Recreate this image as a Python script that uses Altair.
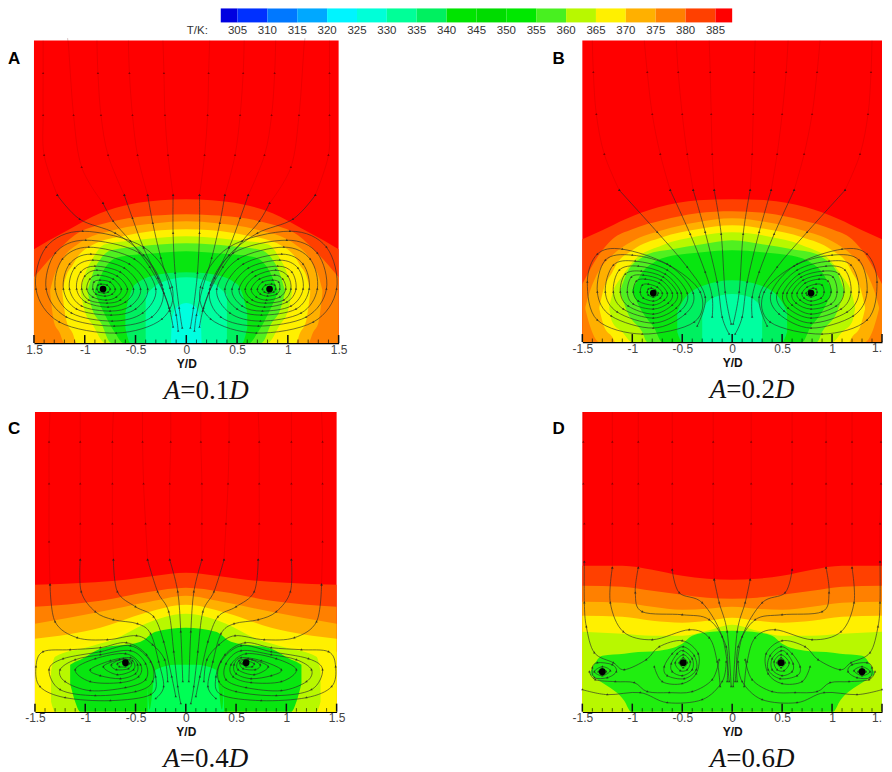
import altair as alt
import pandas as pd

# ---- colour bar ----
BAR_EDGES = [302.2, 305, 310, 315, 320, 325, 330, 335, 340, 345, 350, 355, 360, 365, 370, 375, 380, 385, 387.8]
BAR_COLORS = ["#0000e0", "#0030ff", "#0078ff", "#00a8ff", "#00f4ff", "#00ffd8", "#00ff98", "#00f060", "#00e400",
              "#00dc00", "#00e800", "#48f020", "#b8f800", "#fff000", "#ffb000", "#ff8000", "#ff4000", "#ff0000"]
BAR_LABELS = [305, 310, 315, 320, 325, 330, 335, 340, 345, 350, 355, 360, 365, 370, 375, 380, 385]

C380, C375, C370, C365, C360 = "#ff4000", "#ff8000", "#ffb000", "#fff000", "#b8f800"
C355, C350, C340, C335, C325 = "#50f020", "#08e610", "#00f060", "#00ffa0", "#00ffe0"
C345, CD = "#00ff55", "#20ee10"

# ---- contour bands, left half: (Y/D, upper height, lower height) ----
A_BANDS = [
    (C380, [(-1.5, 94), (-1.35, 103), (-1.15, 114), (-.85, 130), (-.55, 139), (-.25, 143), (0, 144)]),
    (C375, [(-1.5, 66), (-1.4, 78), (-1.3, 89), (-1.1, 108), (-.8, 120), (-.5, 126), (-.25, 128), (0, 129)]),
    (C370, [(-1.34, 53, 50), (-1.3, 68, 20), (-1.25, 78, 11), (-1.2, 87, 0), (-1.07, 99, 0), (-.68, 114, 0), (-.3, 120, 0), (0, 122, 0)]),
    (C365, [(-1.22, 53, 50), (-1.18, 68, 22), (-1.12, 78, 10), (-1.08, 85, 0), (-.93, 98, 0), (-.58, 108, 0), (-.25, 113, 0), (0, 114, 0)]),
    (C360, [(-1.04, 53, 50), (-1.0, 68, 32), (-.92, 85, 18), (-.8, 99, 0), (-.5, 103, 0), (-.2, 106, 0), (0, 107, 0)]),
    (C355, [(-.97, 53, 50), (-.92, 70, 32), (-.84, 85, 20), (-.74, 93, 0), (-.45, 97, 0), (0, 100, 0)]),
    (C350, [(-.9, 53, 50), (-.82, 72, 32), (-.7, 85, 10), (-.62, 87, 0), (-.3, 90, 0), (0, 92, 0)]),
    (C340, [(-.6, 30, 15), (-.55, 50, 0), (-.5, 59, 0), (-.26, 69, 0), (0, 71, 0)]),
    (C335, [(-.4, 48, 0), (-.26, 60, 0), (0, 66, 0)]),
    (C325, [(-.15, 2, 0), (-.14, 25, 0), (-.08, 37, 0), (0, 40, 0)]),
]
B_BANDS = [
    (C380, [(-1.5, 103), (-1.3, 112), (-1.07, 123), (-.74, 135), (-.34, 142), (0, 143)]),
    (C375, [(-1.5, 58), (-1.35, 85), (-1.2, 103), (-1.0, 113), (-.7, 122), (-.35, 129), (0, 131)]),
    (C370, [(-1.47, 35, 33), (-1.42, 52, 15), (-1.33, 72, 0), (-1.2, 87, 0), (-1, 101, 0), (-.7, 112, 0), (-.35, 120, 0), (0, 124, 0)]),
    (C365, [(-1.33, 35, 33), (-1.28, 55, 15), (-1.2, 70, 5), (-1.17, 76, 0), (-1, 92, 0), (-.7, 105, 0), (-.35, 113, 0), (0, 117, 0)]),
    (C360, [(-1.23, 35, 33), (-1.2, 48, 20), (-1.1, 66, 10), (-1, 80, 0), (-.7, 97, 0), (-.35, 106, 0), (0, 110, 0)]),
    (C355, [(-1.12, 52, 50), (-1.05, 70, 30), (-.9, 85, 10), (-.85, 88, 0), (-.6, 93, 0), (-.3, 98, 0), (0, 102, 0)]),
    (C350, [(-1.0, 52, 50), (-.9, 70, 30), (-.78, 80, 14), (-.7, 84, 0), (-.3, 90, 0), (0, 92, 0)]),
    (C340, [(-.55, 30, 10), (-.5, 40, 0), (-.3, 56, 0), (0, 62, 0)]),
    (C335, [(-.3, 2, 0), (-.3, 25, 0), (-.25, 40, 0), (-.1, 47, 0), (0, 48, 0)]),
]
C_BANDS = [
    (C380, [(-1.5, 127), (-1, 129), (-.6, 132), (-.3, 136), (0, 139)]),
    (C375, [(-1.5, 105), (-.85, 111), (-.36, 120), (0, 124)]),
    (C370, [(-1.5, 88), (-.85, 100), (-.36, 110), (0, 116)]),
    (C365, [(-1.5, 73), (-.85, 84), (-.4, 99), (0, 107)]),
    ("#fff400", [(-1.5, 60), (-.85, 72), (-.4, 90), (0, 98)]),
    (C360, [(-1.34, 40, 10), (-1.3, 55, 0), (-1, 64, 0), (-.7, 73, 0), (-.4, 88, 0), (-.2, 95, 0), (0, 98, 0)]),
    (C350, [(-1.15, 47, 28), (-1.1, 50, 10), (-1.05, 52, 0), (-.85, 63, 0), (-.45, 70, 0), (-.3, 80, 0), (0, 84, 0)]),
    (C345, [(-.36, 2, 0), (-.38, 25, 0), (-.3, 42, 0), (-.1, 47, 0), (0, 47, 0)]),
]
D_BANDS = [
    (C380, [(-1.5, 146), (-1.1, 146), (-.8, 142), (-.5, 136), (-.25, 133), (0, 132)]),
    (C375, [(-1.5, 126), (-1.1, 125), (-.8, 121), (-.5, 117), (-.25, 114), (0, 113)]),
    (C370, [(-1.5, 110), (-1.1, 109), (-.8, 105), (-.5, 102), (-.25, 103), (0, 105)]),
    (C365, [(-1.5, 96), (-1.1, 95), (-.8, 91), (-.5, 89), (-.25, 91), (0, 94)]),
    (C360, [(-1.5, 80), (-1.1, 78), (-.8, 76), (-.5, 76), (-.25, 81), (0, 87)]),
    (CD, [(-1.42, 40, 37), (-1.3, 56, 29), (-1.08, 58, 11), (-1.01, 59, 0), (-.73, 61, 0), (-.5, 68, 0), (-.4, 76, 0), (-.2, 80, 0), (0, 81, 0)]),
]

# ---- closed streamlines, left half ----
A_LOOPS = [
    [(-1.48, 54), (-1.38, 96), (-1.02, 112), (-.42, 96), (-.14, 56), (-.24, 24), (-.69, 10), (-1.25, 21)],
    [(-1.38, 54), (-1.29, 90), (-.99, 103), (-.46, 90), (-.23, 54), (-.34, 26), (-.71, 17), (-1.18, 26)],
    [(-1.29, 54), (-1.22, 84), (-.96, 96), (-.51, 84), (-.3, 54), (-.43, 30), (-.73, 22), (-1.13, 30)],
    [(-1.21, 54), (-1.15, 79), (-.94, 89), (-.56, 79), (-.38, 54), (-.5, 34), (-.74, 28), (-1.08, 34)],
    [(-1.15, 54), (-1.1, 75), (-.92, 83), (-.61, 75), (-.45, 54), (-.55, 37), (-.75, 32), (-1.03, 37)],
    [(-1.08, 54), (-1.04, 71), (-.9, 77), (-.65, 71), (-.52, 54), (-.6, 41), (-.77, 36), (-.99, 41)],
    [(-1.03, 54), (-1.0, 67), (-.88, 73), (-.68, 67), (-.58, 54), (-.65, 43), (-.78, 40), (-.96, 43)],
    [(-.98, 54), (-.95, 64), (-.87, 68), (-.72, 64), (-.64, 54), (-.69, 46), (-.79, 43), (-.92, 46)],
    [(-.92, 54), (-.91, 61), (-.85, 63), (-.75, 61), (-.7, 54), (-.73, 49), (-.8, 47), (-.89, 49)],
    [(-.88, 54), (-.87, 58), (-.84, 59), (-.78, 58), (-.75, 54), (-.77, 51), (-.81, 50), (-.86, 51)],
]
B_LOOPS = [
    [(-1.45, 60), (-1.35, 88), (-1.1, 93), (-.65, 78), (-.32, 50), (-.38, 20), (-.9, 8), (-1.35, 22)],
    [(-1.35, 50), (-1.27, 82), (-1.0, 87), (-.62, 76), (-.39, 49), (-.47, 28), (-.79, 14), (-1.21, 26)],
    [(-1.27, 50), (-1.19, 77), (-.97, 81), (-.65, 72), (-.45, 49), (-.52, 31), (-.79, 19), (-1.15, 30)],
    [(-1.19, 50), (-1.13, 72), (-.94, 76), (-.67, 68), (-.51, 49), (-.56, 34), (-.79, 24), (-1.09, 33)],
    [(-1.12, 50), (-1.07, 68), (-.91, 71), (-.69, 65), (-.55, 49), (-.6, 37), (-.79, 28), (-1.04, 36)],
    [(-1.05, 50), (-1.01, 65), (-.89, 67), (-.71, 62), (-.6, 49), (-.64, 39), (-.79, 33), (-.99, 38)],
    [(-.99, 50), (-.96, 61), (-.87, 63), (-.73, 59), (-.65, 49), (-.68, 42), (-.79, 37), (-.94, 41)],
    [(-.92, 50), (-.9, 57), (-.84, 58), (-.75, 55), (-.7, 49), (-.72, 44), (-.79, 41), (-.89, 44)],
    [(-.85, 50), (-.84, 53), (-.81, 54), (-.77, 52), (-.74, 49), (-.75, 47), (-.79, 45), (-.84, 47)],
]
C_LOOPS = [
    [(-1.49, 45), (-1.42, 60), (-1.15, 62), (-.85, 64), (-.59, 69), (-.39, 57), (-.3, 35), (-.35, 17), (-.75, 11), (-1.2, 14), (-1.45, 25)],
    [(-1.36, 42), (-1.22, 53), (-.85, 60), (-.55, 66), (-.35, 50), (-.33, 30), (-.5, 20), (-.9, 16), (-1.25, 22)],
    [(-1.25, 42), (-1.1, 52), (-.85, 57), (-.55, 61), (-.4, 48), (-.4, 32), (-.6, 24), (-.95, 21), (-1.2, 30)],
    [(-1.1, 42), (-.9, 53), (-.6, 58), (-.45, 47), (-.47, 35), (-.65, 29), (-.95, 30)],
    [(-.95, 42), (-.75, 51), (-.55, 54), (-.48, 47), (-.5, 38), (-.65, 33), (-.85, 36)],
    [(-.82, 45), (-.66, 52), (-.53, 51), (-.52, 42), (-.68, 37)],
    [(-.74, 47), (-.62, 53), (-.54, 49), (-.57, 43), (-.69, 42)],
    [(-.68, 48), (-.6, 51), (-.56, 48), (-.6, 45), (-.66, 45)],
]
D_LOOPS = [
    [(-.68, 45), (-.6, 58), (-.49, 65), (-.38, 56), (-.36, 42), (-.48, 33), (-.65, 36)],
    [(-.61, 48), (-.55, 58), (-.49, 61), (-.4, 53), (-.4, 42), (-.5, 36), (-.6, 40)],
    [(-.57, 49), (-.49, 57), (-.42, 50), (-.45, 42), (-.52, 41)],
    [(-.53, 49), (-.49, 54), (-.45, 49), (-.49, 44)],
    [(-1.4, 44), (-1.35, 49), (-1.2, 47), (-1.16, 40), (-1.25, 34), (-1.38, 34)],
    [(-1.38, 40), (-1.3, 45), (-1.22, 41), (-1.3, 36)],
    [(-1.34, 40), (-1.3, 43), (-1.26, 40), (-1.3, 37)],
]

# ---- open streamlines inside the coloured region, left half ----
A_OPEN = [
    [(-.13, 148), (-.13, 110), (-.11, 70), (-.07, 35), (-.04, 15)],
    [(-.38, 148), (-.33, 120), (-.25, 85), (-.16, 55), (-.1, 28), (-.08, 12)],
    [(-.61, 148), (-.53, 125), (-.42, 95), (-.28, 65), (-.17, 35), (-.13, 16)],
    [(-.82, 140), (-.72, 122), (-.55, 102), (-.36, 76), (-.22, 50), (-.16, 32)],
    [(-1.27, 148), (-1.05, 124), (-.7, 110), (-.42, 88), (-.24, 58)],
]
B_OPEN = [
    [(-.18, 152), (-.11, 108), (-.07, 50), (-.01, 18)],
    [(-.39, 152), (-.27, 110), (-.15, 60), (-.1, 25), (-.03, 8)],
    [(-.62, 152), (-.42, 108), (-.27, 70), (-.2, 45), (-.2, 25)],
    [(-1.13, 152), (-.75, 110), (-.45, 75), (-.27, 45), (-.35, 16)],
]
C_OPEN = [
    [(-1.35, 127), (-1.3, 90), (-1.08, 74), (-.78, 72), (-.49, 76), (-.33, 67), (-.21, 52), (-.18, 30)],
    [(-1.05, 152), (-1.04, 120), (-.9, 100), (-.72, 92), (-.48, 88), (-.35, 78), (-.27, 50), (-.22, 25), (-.3, 13)],
    [(-.72, 152), (-.68, 120), (-.5, 105), (-.32, 95), (-.22, 70), (-.14, 35), (-.1, 15)],
    [(-.38, 152), (-.28, 120), (-.17, 100), (-.12, 60), (-.08, 25), (-.05, 8)],
    [(-.16, 152), (-.08, 120), (-.05, 80), (-.03, 30)],
]
D_OPEN = [
    [(-1.48, 150), (-1.48, 109), (-1.46, 85), (-1.38, 59), (-1.19, 49), (-1.08, 42), (-.86, 52), (-.73, 65), (-.5, 71), (-.34, 58), (-.36, 38), (-.5, 28), (-.7, 30), (-.78, 45)],
    [(-1.2, 144), (-1.22, 109), (-1.09, 80), (-.8, 72), (-.43, 82), (-.23, 74), (-.15, 50), (-.12, 25)],
    [(-.94, 144), (-.97, 119), (-.9, 100), (-.5, 97), (-.23, 92), (-.06, 65), (-.05, 30)],
    [(-.6, 142), (-.53, 119), (-.3, 109), (-.1, 75), (-.03, 30)],
    [(-.18, 132), (-.13, 109), (-.05, 80), (-.01, 25)],
    [(-1.43, 40), (-1.37, 32), (-1.17, 30), (-.98, 29), (-.85, 20), (-.63, 19), (-.4, 20), (-.2, 32), (-.13, 52)],
    [(-1.5, 22), (-1.25, 17), (-.92, 19), (-.65, 9), (-.3, 12), (-.1, 30), (-.06, 50)],
]

# ---- faint streamlines in the red region, left half ----
A_FAINT = [
    [(-1.41, 303), (-1.41, 270), (-1.41, 228), (-1.40, 188), (-1.27, 148)],
    [(-1.17, 303), (-1.16, 298), (-1.11, 228), (-1.03, 176), (-.82, 140)],
    [(-.88, 303), (-.87, 270), (-.84, 228), (-.77, 188), (-.61, 148)],
    [(-.57, 303), (-.56, 270), (-.53, 228), (-.48, 188), (-.38, 148)],
    [(-.23, 303), (-.22, 270), (-.21, 228), (-.18, 188), (-.13, 148)],
]
B_FAINT = [
    [(-.23, 302), (-.22, 270), (-.21, 228), (-.2, 188), (-.18, 152)],
    [(-.56, 302), (-.54, 270), (-.5, 228), (-.45, 188), (-.39, 152)],
    [(-.88, 302), (-.85, 270), (-.8, 228), (-.72, 188), (-.62, 152)],
    [(-1.4, 302), (-1.39, 270), (-1.36, 228), (-1.28, 188), (-1.13, 152)],
]
C_FAINT = [
    [(-1.35, 300), (-1.36, 270), (-1.36, 228), (-1.36, 170), (-1.35, 127)],
    [(-1.05, 300), (-1.05, 270), (-1.05, 228), (-1.05, 188), (-1.05, 152)],
    [(-.72, 300), (-.73, 270), (-.73, 228), (-.73, 188), (-.72, 152)],
    [(-.43, 300), (-.43, 270), (-.42, 228), (-.4, 188), (-.38, 152)],
    [(-.15, 300), (-.15, 270), (-.16, 228), (-.16, 188), (-.16, 152)],
]
D_FAINT = [
    [(-1.49, 300), (-1.49, 270), (-1.49, 228), (-1.48, 188), (-1.48, 150)],
    [(-1.2, 300), (-1.2, 270), (-1.2, 228), (-1.2, 188), (-1.2, 144)],
    [(-.94, 300), (-.94, 270), (-.94, 228), (-.94, 188), (-.94, 144)],
    [(-.6, 300), (-.6, 270), (-.6, 228), (-.6, 188), (-.6, 142)],
    [(-.19, 300), (-.19, 270), (-.19, 228), (-.19, 188), (-.18, 132)],
]

# vortex cores, left half
A_CORES = [(-.82, 54)]
B_CORES = [(-.79, 49)]
C_CORES = [(-.6, 49)]
D_CORES = [(-.49, 49), (-1.3, 40)]

MAJOR_TICKS = [-1.5, -1, -.5, 0, .5, 1, 1.5]
MINOR_TICKS = [-1.4, -1.3, -1.2, -1.1, -.9, -.8, -.7, -.6, -.4, -.3, -.2, -.1,
               .1, .2, .3, .4, .6, .7, .8, .9, 1.1, 1.2, 1.3, 1.4]
SERIF = "Liberation Serif"
SANS = "Liberation Sans"


def lines_frame(curves):
    rows = []
    for i, c in enumerate(curves):
        for k, (x, h) in enumerate(c):
            rows.append({"id": f"L{i}", "k": k, "x": x, "h": h})
        for k, (x, h) in enumerate(c):
            rows.append({"id": f"R{i}", "k": k, "x": -x, "h": h})
    return pd.DataFrame(rows)


def band_frame(pts):
    left = [(p[0], p[1], p[2] if len(p) > 2 else 0) for p in pts]
    right = [(-a, b, c) for a, b, c in reversed(left) if a != 0]
    return pd.DataFrame(left + right, columns=["x", "top", "bot"])


def panel(letter, caption, bands, loops, opened, faint, cores, w, h, rng, label_mode="full", y_off=0):
    total = h + y_off
    yscale = alt.Scale(domain=[0, h], range=[total, y_off], nice=False, zero=False)
    xscale = alt.Scale(domain=[-1.5, 1.5], range=rng, nice=False, zero=False)
    lab = {
        "nominus": "(datum.value<0 && datum.value>-1.5 ? '-' : '')+abs(datum.value)",
        "full": "(datum.value<0 ? '-' : '')+abs(datum.value)",
        "cut": "datum.value==1.5 ? '' : (datum.value<0 ? '-' : '')+abs(datum.value)",
    }[label_mode]
    xs = alt.X("x:Q", scale=xscale,
               axis=alt.Axis(values=MAJOR_TICKS, ticks=False, grid=False, domainColor="#000", domainWidth=1.6,
                             labelFont=SANS, labelFontSize=12, labelColor="#444", labelPadding=1,
                             labelOverlap=False, labelBound=False, labelFlush=False, labelExpr=lab,
                             title="Y/D", titleFont=SANS, titleFontSize=12, titleFontWeight="bold",
                             titleColor="#111", titlePadding=3))
    ys = alt.Y("top:Q", scale=yscale, axis=None)
    yh = alt.Y("h:Q", scale=yscale, axis=None)
    base = pd.DataFrame({"x": [-1.5, 1.5], "top": [h, h], "bot": [0, 0]})
    layers = [alt.Chart(base).mark_area(color="#ff0000", interpolate="linear").encode(
        x=xs, y=ys, y2=alt.Y2("bot:Q"))]
    for col, pts in bands:
        layers.append(alt.Chart(band_frame(pts)).mark_area(color=col, interpolate="monotone").encode(
            x=xs, y=ys, y2=alt.Y2("bot:Q")))
    ff = lines_frame(faint)
    layers.append(alt.Chart(ff).mark_line(color="#5a0000", strokeWidth=0.6, opacity=0.22, interpolate="cardinal").encode(
        x=xs, y=yh, detail="id:N", order="k:Q"))
    layers.append(alt.Chart(ff[ff["h"] < h - 8]).mark_point(shape="triangle", filled=True, color="#400000", size=6, opacity=0.6).encode(
        x=xs, y=yh))
    lf = lines_frame(loops)
    of = lines_frame(opened)
    for df, interp in ((lf, "cardinal-closed"), (of, "cardinal")):
        layers.append(alt.Chart(df).mark_line(color="#2a2a2a", strokeWidth=0.8, opacity=0.8, interpolate=interp).encode(
            x=xs, y=yh, detail="id:N", order="k:Q"))
        layers.append(alt.Chart(df).mark_point(shape="triangle", filled=True, color="#222", size=6, opacity=0.75).encode(
            x=xs, y=yh))
    core = pd.DataFrame([{"x": x, "h": v} for x, v in cores] + [{"x": -x, "h": v} for x, v in cores])
    layers.append(alt.Chart(core).mark_point(shape="circle", filled=True, color="#000", size=45, opacity=1).encode(
        x=xs, y=yh))
    maj = pd.DataFrame({"x": MAJOR_TICKS, "b": 0, "t": 8})
    mnr = pd.DataFrame({"x": MINOR_TICKS, "b": 0, "t": 3.5})
    for df, sw in ((maj, 1.5), (mnr, 0.7)):
        layers.append(alt.Chart(df).mark_rule(color="#111", strokeWidth=sw).encode(
            x=xs, y=alt.Y("b:Q", scale=yscale, axis=None), y2=alt.Y2("t:Q")))

    # panel letter and caption
    layers.append(alt.Chart(pd.DataFrame({"t": [letter[0]]})).mark_text(
        font=SANS, fontWeight="bold", fontSize=17, color="#000", align="left", baseline="middle").encode(
        text="t:N", x=alt.value(letter[1]), y=alt.value(letter[2] + y_off)))
    if label_mode == "cut":
        layers.append(alt.Chart(pd.DataFrame({"t": ["1."]})).mark_text(
            font=SANS, fontSize=12, color="#444", align="right", baseline="top").encode(
            text="t:N", x=alt.value(rng[1]), y=alt.value(total + 1)))
    cy = total + caption[1]
    parts = caption[0]
    cx = (rng[0] + rng[1]) / 2 + 19
    for txt, style, al, dx in ((parts[0], "italic", "right", -25), (parts[1], "normal", "left", -25), (parts[2], "italic", "left", 24)):
        layers.append(alt.Chart(pd.DataFrame({"t": [txt]})).mark_text(
            font=SERIF, fontStyle=style, fontSize=27, color="#111", align=al, baseline="alphabetic").encode(
            text="t:N", x=alt.value(cx + dx), y=alt.value(cy)))
    return alt.layer(*layers).properties(width=w, height=total)


# colour bar panel (drawn across both columns, from the first cell)
bar_rng = [187, 699]
bar_df = pd.DataFrame({"a": BAR_EDGES[:-1], "b": BAR_EDGES[1:], "c": BAR_COLORS})
bar_x = alt.X("a:Q", scale=alt.Scale(domain=[BAR_EDGES[0], BAR_EDGES[-1]], range=bar_rng, nice=False, zero=False), axis=None)
bar = alt.Chart(bar_df).mark_rect().encode(
    x=bar_x, x2=alt.X2("b:Q"), y=alt.value(0), y2=alt.value(14),
    color=alt.Color("c:N", scale=None))
lab_df = pd.DataFrame({"a": BAR_LABELS, "t": [str(v) for v in BAR_LABELS]})
bar_txt = alt.Chart(lab_df).mark_text(font=SANS, fontSize=11.5, color="#333", baseline="middle").encode(
    x=bar_x, y=alt.value(23), text="t:N")
tk = alt.Chart(pd.DataFrame({"t": ["T/K:"]})).mark_text(font=SANS, fontSize=11.5, color="#333", baseline="middle", align="left").encode(
    x=alt.value(153), y=alt.value(23), text="t:N")
legend = alt.layer(bar, bar_txt, tk).properties(width=305, height=14)
spacer = alt.Chart(pd.DataFrame({"t": [""]})).mark_text(opacity=0).encode(
    text="t:N", x=alt.value(10), y=alt.value(7)).properties(width=300, height=14)

A = panel(("A", -26, 19), (("A", "=0.1", "D"), 56), A_BANDS, A_LOOPS, A_OPEN, A_FAINT, A_CORES, 305, 303, [0, 305], label_mode="nominus")
B = panel(("B", -30, 19), (("A", "=0.2", "D"), 56), B_BANDS, B_LOOPS, B_OPEN, B_FAINT, B_CORES, 300, 302, [0, 300], label_mode="cut")
C = panel(("C", -26, 17), (("A", "=0.4", "D"), 55), C_BANDS, C_LOOPS, C_OPEN, C_FAINT, C_CORES, 305, 300, [1, 303], y_off=51)
D = panel(("D", -30, 17), (("A", "=0.6", "D"), 55), D_BANDS, D_LOOPS, D_OPEN, D_FAINT, D_CORES, 300, 300, [0, 300], label_mode="cut", y_off=51)

chart = alt.concat(legend, spacer, A, B, C, D, columns=2, bounds="flush", align="each",
                   spacing=alt.RowColnumber(row=18, column=244)).properties(
    padding={"left": 0, "top": 0, "right": 0, "bottom": 0},
    background="white",
).configure_view(stroke=None)

chart.save("out.html", embed_options={"renderer": "svg", "actions": False})
